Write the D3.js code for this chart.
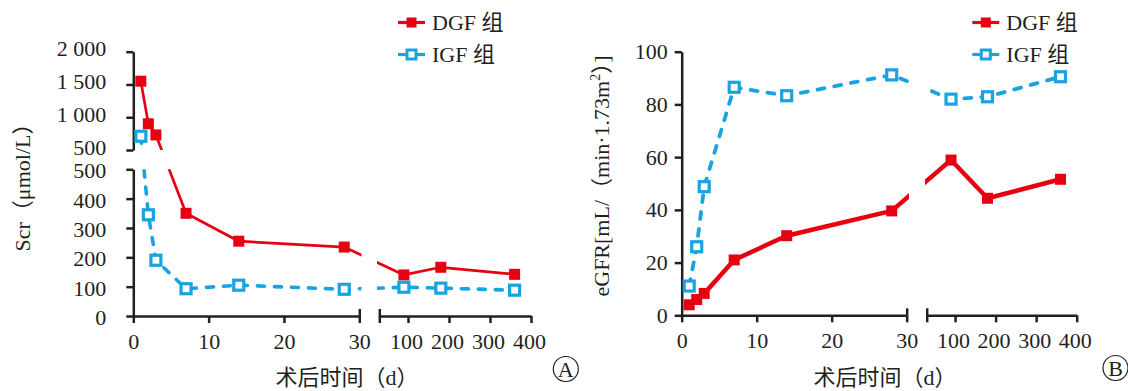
<!DOCTYPE html>
<html>
<head>
<meta charset="utf-8">
<script src="https://cdn.jsdelivr.net/npm/d3@7"></script>
<style>
  body { margin: 0; background: #fff; }
  svg { display: block; font-family: 'Liberation Serif', 'Noto Sans CJK SC', serif; }
</style>
</head>
<body>
<div id="chart"></div>
<script>
// days after surgery (same for every series)
const days = [1, 2, 3, 7, 14, 28, 90, 180, 360];

// Scr (umol/L)
const scrDGF = [1550, 900, 730, 350, 255, 235, 140, 166, 142];
const scrIGF = [710, 345, 190, 93, 105, 91, 98, 95, 88];

// eGFR [mL/(min*1.73m2)]
const egfrDGF = [4, 6, 8.3, 21, 30.2, 39.6, 58.9, 44.4, 51.6];
const egfrIGF = [11.1, 26, 48.8, 86.5, 83.3, 91.2, 82, 82.9, 90.5];

const xTicksEarly = [0, 10, 20, 30];
const xTicksLate = [100, 200, 300, 400];
const scrTicksLow = [0, 100, 200, 300, 400, 500];
const scrTicksHigh = [500, 1000, 1500, 2000];
const egfrTicks = [0, 20, 40, 60, 80, 100];
const groupNames = ['DGF 组', 'IGF 组'];

const red = '#e60012';
const blue = '#19a3e1';
const ink = '#231f20';
const font = "'Liberation Serif', 'Noto Sans CJK SC', serif";

const svg = d3.select('#chart').append('svg')
  .attr('width', 1128)
  .attr('height', 391);

const fmtScr = d => d >= 1000 ? d3.format(',')(d).replace(',', ' ') : String(d);

const panels = [
  {
    id: 'a',
    letter: 'A',
    xSegs: [
      { domain: [0, 30], range: [133.3, 359.3], ticks: xTicksEarly },
      { domain: [30, 400], range: [379.3, 531], ticks: xTicksLate }
    ],
    ySegs: [
      { domain: [0, 500], range: [316, 169.3], ticks: scrTicksLow, shift: 1.5 },
      { domain: [500, 2000], range: [150, 51.7], ticks: scrTicksHigh, shift: -3 }
    ],
    xClip: [[100, 361.5], [377, 560]],
    yClip: [[0, 150], [169.3, 340]],
    series: [scrDGF, scrIGF],
    lineWidths: [2.7, 3.6],
    labelPad: 20,
    fmt: fmtScr,
    yTitle: [{ t: 'Scr（μmol/L）' }],
    yTitlePos: [22, 182],
    xTitleX: 347,
    legendX: 398,
    circle: [565.8, 369]
  },
  {
    id: 'b',
    letter: 'B',
    xSegs: [
      { domain: [0, 30], range: [681.7, 906.7], ticks: xTicksEarly },
      { domain: [30, 400], range: [926.7, 1076.7], ticks: xTicksLate }
    ],
    ySegs: [
      { domain: [0, 100], range: [315.3, 51.7], ticks: egfrTicks, shift: 0 }
    ],
    xClip: [[640, 909], [925, 1100]],
    yClip: [[0, 340]],
    series: [egfrDGF, egfrIGF],
    lineWidths: [4.5, 3.8],
    labelPad: 7,
    fmt: d => String(d),
    yTitle: [{ t: 'eGFR[mL/（min·1.73m' }, { t: '2', sup: true }, { t: '）]' }],
    yTitlePos: [601, 176],
    xTitleX: 885,
    legendX: 972.3,
    circle: [1115.5, 368]
  }
];

panels.forEach(drawPanel);

function drawPanel(p) {
  const xScales = p.xSegs.map(s => d3.scaleLinear().domain(s.domain).range(s.range));
  const yScales = p.ySegs.map(s => d3.scaleLinear().domain(s.domain).range(s.range));

  // piecewise lookup: pick the segment that holds the value
  const xPix = v => {
    const i = p.xSegs.findIndex(s => v >= s.domain[0] && v <= s.domain[1]);
    return xScales[i](v);
  };
  const yPix = v => {
    const i = p.ySegs.findIndex(s => v >= s.domain[0] && v <= s.domain[1]);
    return yScales[i](v);
  };

  const x0 = p.xSegs[0].range[0];
  const yBase = p.ySegs[0].range[0];
  const g = svg.append('g');

  // x axis pieces
  p.xSegs.forEach((s, i) => {
    const ax = g.append('g')
      .attr('transform', `translate(0,${yBase})`)
      .call(d3.axisBottom(xScales[i])
        .tickValues(s.ticks)
        .tickSize(7)
        .tickSizeOuter(0)
        .tickPadding(10))
      .attr('font-family', font)
      .attr('font-size', 22);
    ax.select('.domain').attr('stroke', ink).attr('stroke-width', 2.5);
    ax.selectAll('.tick line').attr('stroke', ink).attr('stroke-width', 2.5);
    ax.selectAll('.tick text')
      .attr('fill', ink)
      .attr('x', i === 1 ? -2 : 0);
    // break caps
    const capX = i === 0 ? s.range[1] : s.range[0];
    ax.append('line')
      .attr('x1', capX + 0.5).attr('x2', capX + 0.5)
      .attr('y1', -7).attr('y2', i === 0 ? 0 : 7)
      .attr('stroke', ink)
      .attr('stroke-width', 2.5);
  });

  // y axis pieces
  p.ySegs.forEach((s, i) => {
    const ay = g.append('g')
      .attr('transform', `translate(${x0},0)`)
      .call(d3.axisLeft(yScales[i])
        .tickValues(s.ticks)
        .tickSize(7)
        .tickSizeOuter(0)
        .tickPadding(p.labelPad)
        .tickFormat(p.fmt))
      .attr('font-family', font)
      .attr('font-size', 22);
    ay.select('.domain').attr('stroke', ink).attr('stroke-width', 2.5);
    ay.selectAll('.tick line').attr('stroke', ink).attr('stroke-width', 2.5);
    ay.selectAll('.tick text')
      .attr('fill', ink)
      .attr('y', s.shift);
  });

  // clip out the axis breaks
  const clip = svg.append('clipPath').attr('id', `clip-${p.id}`);
  p.xClip.forEach(cx => {
    p.yClip.forEach(cy => {
      clip.append('rect')
        .attr('x', cx[0])
        .attr('y', cy[0])
        .attr('width', cx[1] - cx[0])
        .attr('height', cy[1] - cy[0]);
    });
  });

  const line = d3.line()
    .x(d => xPix(d[0]))
    .y(d => yPix(d[1]));

  const lines = g.append('g').attr('clip-path', `url(#clip-${p.id})`);

  p.series.forEach((vals, k) => {
    const pts = days.map((d, i) => [d, vals[i]]);
    const path = lines.append('path')
      .datum(pts)
      .attr('d', line)
      .attr('fill', 'none')
      .attr('stroke', k === 0 ? red : blue)
      .attr('stroke-width', p.lineWidths[k])
      .attr('stroke-linejoin', 'round');
    if (k === 1) {
      path.attr('stroke-dasharray', '7,10').attr('stroke-linecap', 'round');
    }
  });

  // markers
  p.series.forEach((vals, k) => {
    const pts = days.map((d, i) => [d, vals[i]]);
    const size = k === 0 ? 11 : 10;
    g.append('g').selectAll('rect')
      .data(pts)
      .join('rect')
      .attr('x', d => xPix(d[0]) - size / 2)
      .attr('y', d => yPix(d[1]) - size / 2)
      .attr('width', size)
      .attr('height', size)
      .attr('fill', k === 0 ? red : '#fff')
      .attr('stroke', k === 0 ? 'none' : blue)
      .attr('stroke-width', k === 0 ? 0 : 3.2);
  });

  // legend
  groupNames.forEach((name, k) => {
    const ly = k === 0 ? 22.5 : 54.5;
    const lg = g.append('g').attr('transform', `translate(${p.legendX},${ly})`);
    lg.append('line')
      .attr('x1', 0).attr('x2', 27)
      .attr('stroke', k === 0 ? red : blue)
      .attr('stroke-width', 3.2);
    const s = k === 0 ? 10 : 9;
    lg.append('rect')
      .attr('x', 13.5 - s / 2)
      .attr('y', -s / 2)
      .attr('width', s)
      .attr('height', s)
      .attr('fill', k === 0 ? red : '#fff')
      .attr('stroke', k === 0 ? 'none' : blue)
      .attr('stroke-width', k === 0 ? 0 : 3);
    lg.append('text')
      .attr('x', 34)
      .attr('y', 7.5)
      .attr('fill', ink)
      .style('font-size', '22px')
      .text(name);
  });

  // y title
  const yt = g.append('text')
    .attr('transform', `translate(${p.yTitlePos[0]},${p.yTitlePos[1]}) rotate(-90)`)
    .attr('text-anchor', 'middle')
    .attr('dy', '0.35em')
    .attr('fill', ink)
    .style('font-size', '22px');
  let lifted = false;
  p.yTitle.forEach(part => {
    const ts = yt.append('tspan').text(part.t);
    if (part.sup) {
      ts.attr('dy', -9).style('font-size', '14px');
      lifted = true;
    } else if (lifted) {
      ts.attr('dy', 9);
      lifted = false;
    }
  });

  // x title
  g.append('text')
    .attr('x', p.xTitleX)
    .attr('y', 385)
    .attr('text-anchor', 'middle')
    .attr('fill', ink)
    .style('font-size', '22px')
    .text('术后时间（d）');

  // panel letter
  g.append('circle')
    .attr('cx', p.circle[0])
    .attr('cy', p.circle[1])
    .attr('r', 12.5)
    .attr('fill', 'none')
    .attr('stroke', ink)
    .attr('stroke-width', 1.2);
  g.append('text')
    .attr('x', p.circle[0])
    .attr('y', p.circle[1] + 7.5)
    .attr('text-anchor', 'middle')
    .attr('fill', ink)
    .style('font-size', '22px')
    .text(p.letter);
}
</script>
</body>
</html>
